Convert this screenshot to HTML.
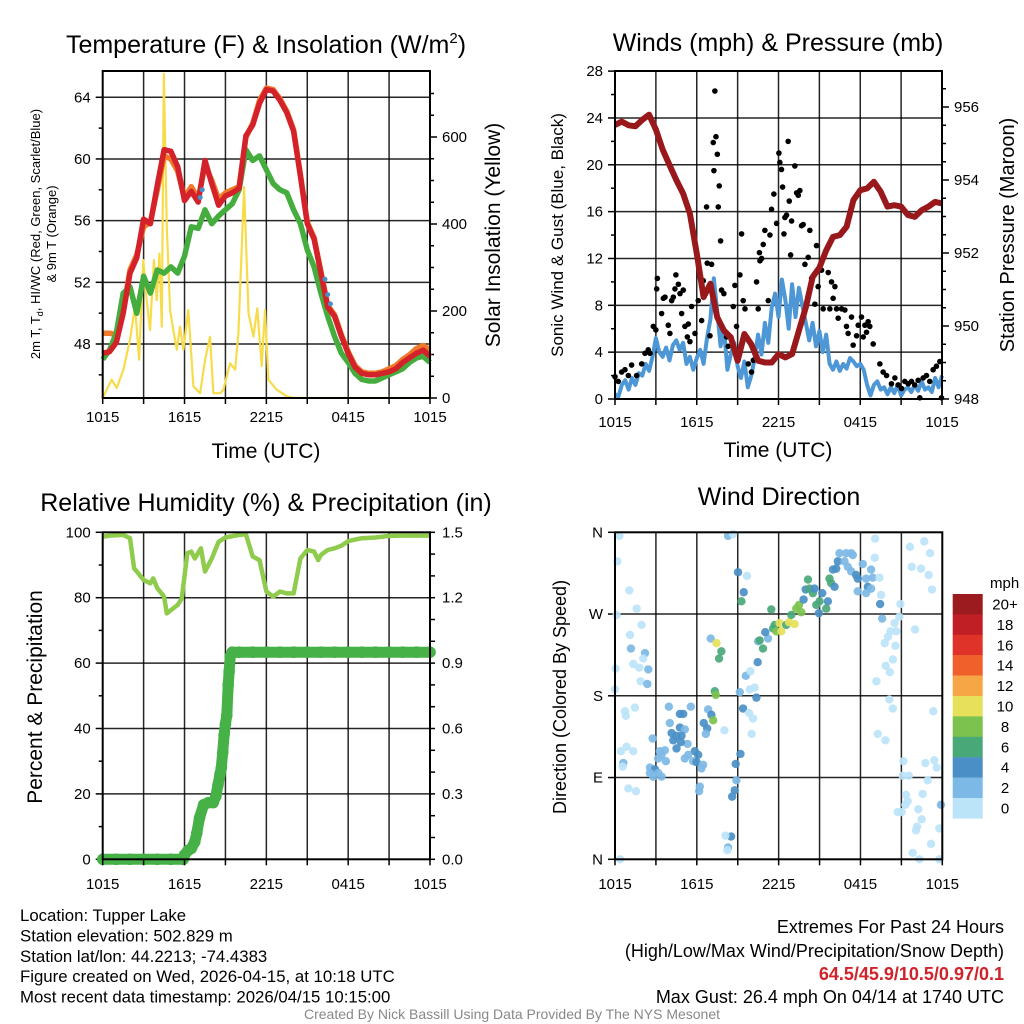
<!DOCTYPE html>
<html><head><meta charset="utf-8"><style>
html,body{margin:0;padding:0;background:#fff}
svg{display:block;font-family:"Liberation Sans",sans-serif}
</style></head><body>
<svg id="c" width="1024" height="1024" viewBox="0 0 1024 1024"></svg>
<script>
// ---------- DATA ----------
const hoursHalf = [];
for (let i = 0; i <= 48; i++) hoursHalf.push(i * 0.5);
const tempRed = [47.4,47.5,48.1,50.0,52.6,53.6,56.1,55.8,58.3,60.6,60.5,59.5,57.3,57.9,57.2,59.9,58.4,57.0,57.6,57.8,58.1,61.5,62.2,63.6,64.5,64.4,63.8,63.0,61.8,58.9,55.8,54.8,52.6,50.4,49.8,48.5,47.4,46.5,46.1,46.0,46.0,46.1,46.2,46.4,46.8,47.1,47.4,47.6,47.2];
const tempOrange = [48.7,48.7,48.6,50.2,52.8,53.8,55.6,55.9,58.0,60.2,60.0,59.2,57.5,58.2,57.4,59.6,58.6,57.4,57.8,58.0,58.2,61.4,62.3,63.8,64.6,64.5,63.9,63.1,61.9,59.0,55.9,54.9,52.7,50.5,49.9,48.6,47.5,46.6,46.2,46.1,46.1,46.2,46.4,46.6,47.0,47.3,47.7,47.9,47.6];
const dewGreen = [47.0,47.6,48.7,51.3,51.7,50.0,52.4,51.3,52.8,52.6,53.0,52.6,53.7,55.6,55.5,56.7,55.8,56.3,56.7,57.1,58.0,60.6,59.9,60.2,59.3,58.4,58.0,57.8,56.7,55.8,54.1,53.0,51.3,49.8,48.5,47.4,46.8,46.1,45.7,45.6,45.6,45.8,46.0,46.2,46.4,46.8,47.1,47.2,46.8];
const heatIdxTimes = [7.15,7.3,16.3,16.5,16.7];
const heatIdxVals = [57.5,58.0,52.2,51.2,50.6];
const solarTimes = [0,0.66,1.03,1.52,2.0,2.37,2.67,2.98,3.23,3.47,3.76,3.96,4.16,4.33,4.48,4.7,4.94,5.18,5.43,5.67,5.92,6.28,6.65,7.14,7.51,7.87,8.12,8.61,8.85,9.34,9.71,9.95,10.37,10.69,11.05,11.34,11.66,11.9,12.15,12.76,13.5,14.0,24];
const solarVals = [0,42,23,65,134,210,88,317,225,156,317,225,332,164,745,393,202,156,111,164,111,202,27,11,88,141,11,11,19,80,65,149,485,195,141,206,73,202,42,19,4,0,0];

const hoursQ = [];
for (let i = 0; i <= 96; i++) hoursQ.push(i * 0.25);
const sonicWind = [0.4,0.2,1.2,1.6,0.8,1.8,1.2,2.2,2.0,3.0,2.4,3.6,5.2,4.0,3.6,4.4,3.3,4.6,5.0,4.2,4.8,3.0,3.6,2.5,3.5,4.2,3.0,5.2,6.8,10.3,7.5,4.5,6.0,2.5,3.8,4.8,2.8,1.8,3.2,1.0,2.0,3.5,5.5,3.8,6.5,4.8,7.8,9.0,7.0,10.2,8.5,6.0,9.8,7.0,9.5,8.0,6.5,5.0,6.5,4.5,5.8,4.0,5.5,3.0,2.5,3.2,2.4,3.0,2.6,3.5,3.2,2.8,3.0,2.5,1.2,0.3,1.2,1.5,0.8,1.0,0.4,1.0,0.5,1.2,0.3,0.8,1.0,0.6,1.2,0.7,1.5,0.8,1.0,0.6,1.8,1.0,2.0];
const pressure = [955.51,955.6,955.5,955.47,955.65,955.79,955.38,954.83,954.41,954.0,953.63,953.08,951.98,950.79,951.16,950.24,949.87,949.69,949.05,949.78,949.5,949.05,949.0,949.0,949.23,949.14,949.23,949.87,950.51,951.34,951.6,952.07,952.44,952.49,952.72,953.45,953.72,953.77,953.95,953.68,953.27,953.31,953.27,953.04,952.99,953.17,953.27,953.4,953.36];
const gustTimes = [0,0.24,0.49,0.73,1.22,0.98,1.59,1.96,2.2,2.44,2.57,2.81,3.0,3.11,3.06,3.42,3.55,3.67,3.91,4.03,4.16,4.28,4.4,4.47,4.65,4.77,5.01,4.89,5.13,5.31,5.38,5.5,5.62,5.87,5.99,6.11,6.36,6.48,6.72,6.77,6.97,7.09,7.21,7.33,7.41,7.51,7.26,7.65,7.58,7.75,7.82,7.99,8.19,8.31,8.68,8.8,8.92,9.17,9.29,9.41,9.54,9.78,10.02,10.15,10.39,10.51,10.64,10.76,10.6,10.88,11.0,11.25,11.37,11.49,11.66,11.86,12.03,12.1,12.22,12.3,12.4,12.47,12.59,12.71,12.79,12.89,12.96,13.2,13.33,13.45,13.57,13.69,13.81,13.94,14.18,14.3,14.43,14.67,14.79,14.91,15.16,15.28,15.65,15.77,15.89,16.01,16.14,16.26,16.38,16.63,16.87,16.99,17.11,17.36,17.48,17.73,17.85,18.09,18.34,18.58,18.7,18.22,18.46,18.95,19.44,19.68,19.93,20.29,20.54,20.78,21.03,21.27,21.52,21.76,22.0,22.25,22.37,22.62,22.86,23.1,23.35,23.59,23.84,23.96];
const gustVals = [1.9,1.5,2.3,2.5,2.9,2.0,2.0,3.0,3.9,4.2,3.9,6.2,5.9,10.3,9.4,7.3,8.6,8.7,6.3,5.6,8.4,8.7,9.4,10.6,9.8,9.0,9.3,7.3,6.2,5.3,6.4,4.9,7.9,5.6,12.5,8.4,6.7,10.1,16.4,11.6,5.4,11.5,21.9,26.3,22.4,20.9,19.5,18.2,16.4,13.5,9.3,9.0,5.3,4.5,7.9,9.7,6.2,10.6,14.1,8.4,7.7,3.0,2.3,3.3,10.0,7.7,11.8,12.0,12.5,13.2,14.4,8.4,14.0,16.2,17.5,15.0,21.0,20.2,19.6,18.1,14.1,15.5,15.7,22.0,16.9,12.3,15.2,19.9,17.6,17.4,17.8,14.8,14.9,11.5,12.1,14.4,10.3,8.1,13.1,9.6,11.0,7.7,10.8,7.7,10.0,8.6,9.6,7.7,6.9,7.7,7.6,6.2,5.6,7.0,4.6,5.4,6.3,7.0,6.3,6.6,6.2,5.3,5.7,4.7,3.0,2.3,2.0,1.3,1.8,1.2,0.9,1.5,1.3,1.5,1.2,1.6,0.1,1.8,2.0,1.5,2.5,2.8,3.2,0.1];

const rhTimes = [0,0.5,1.5,2.0,2.3,2.5,3.0,3.5,3.7,4.0,4.5,4.7,5.0,5.5,5.8,6.2,6.5,6.75,7.2,7.5,8.0,8.5,9.0,10.0,10.5,11.0,11.5,12.0,12.5,13.0,13.5,14.0,14.5,15.0,15.5,15.8,16.0,16.5,17.0,17.5,18.0,19.0,20.0,21.0,22.0,24.0];
const rhVals = [98.7,99.0,99.2,98.2,89.0,88.0,85.4,84.4,85.9,82.9,80.3,75.2,76.2,77.8,79.8,93.6,94.1,92.0,95.1,88.0,92.0,97.1,98.4,99.2,99.4,92.6,91.5,81.9,80.3,81.9,81.3,81.3,92.0,94.6,94.1,91.5,93.1,94.6,95.1,95.9,97.3,98.2,98.4,98.9,99.0,99.0];
const precipTimes = [0,1,2,3,4,5,5.9,6.0,6.25,6.5,6.75,6.9,7.1,7.4,7.75,8.1,8.3,8.45,8.6,8.7,8.8,8.9,9.0,9.1,9.2,9.27,9.35,9.5,10,11,12,13,14,15,16,17,18,19,20,21,22,23,24];
const precipVals = [0,0,0,0,0,0,0,0.02,0.04,0.05,0.08,0.12,0.19,0.25,0.26,0.26,0.29,0.34,0.39,0.42,0.49,0.57,0.62,0.66,0.80,0.86,0.93,0.95,0.95,0.95,0.95,0.95,0.95,0.95,0.95,0.95,0.95,0.95,0.95,0.95,0.95,0.95,0.95];

const dirTimes = [0.32,0.17,0.12,1.05,1.59,1.95,1.10,1.17,2.20,1.34,1.78,2.44,2.07,0.05,0.0,1.88,2.37,0.73,0.80,1.46,0.85,0.44,1.34,0.61,0.56,0.98,1.54,0.37,2.76,3.95,4.76,5.0,5.56,4.02,4.76,5.12,4.15,4.51,4.88,4.27,5.32,4.83,4.51,3.29,3.66,3.41,3.17,3.73,2.56,2.93,3.17,2.56,3.41,2.80,5.85,6.10,5.37,5.12,5.73,5.98,6.46,6.34,6.22,6.17,6.83,7.07,7.20,6.51,6.76,6.66,8.02,7.32,7.39,7.02,7.44,7.80,7.63,9.02,9.68,9.44,9.27,9.15,9.39,9.83,10.12,10.02,9.2,8.85,8.9,8.78,8.59,8.51,8.10,8.29,8.24,8.29,8.66,9.59,9.93,9.88,10.24,10.37,10.46,10.49,10.61,10.85,11.22,11.02,11.46,11.59,11.71,11.83,12.07,12.2,12.56,12.76,13.17,12.93,13.29,13.49,13.66,13.83,13.98,14.15,14.27,14.51,14.63,14.76,15.0,14.95,15.2,15.49,15.61,15.73,15.85,16.1,15.98,16.34,16.22,16.46,16.95,17.32,17.44,16.83,17.07,17.32,17.68,17.8,18.17,18.41,18.78,18.9,19.39,18.54,18.41,18.78,17.8,19.51,19.44,19.59,19.07,19.05,19.17,19.85,20.15,19.78,20.02,20.2,20.5,20.63,20.56,20.37,20.85,20.93,20.12,20.37,19.27,19.83,21.63,21.76,22.44,22.68,23.1,23.0,23.24,22.0,23.34,21.15,21.1,21.54,22.76,23.41,23.59,22.93,21.34,22.56,21.46,21.29,23.9,22.24,20.73,21.02,22.49,22.15,22.07,23.78,23.17,21.83,22.32,23.78];
const dirVals = [356,328,269,296,276,258,247,232,227,215,211,209,221,210,187,196,193,163,158,167,124,119,119,106,102,78,75,0,133,168,160,160,168,150,145,143,139,136,136,131,127,129,122,119,120,115,111,108,101,99,95,95,91,91,119,115,115,111,108,107,104,100,80,75,165,159,153,150,144,138,142,185,181,243,238,229,221,316,312,294,284,184,166,161,155,138,116,105,87,76,69,25,26,13,10,356,358,202,207,187,189,178,217,240,241,232,243,250,275,254,258,251,260,251,258,261,259,269,276,280,272,286,297,308,298,293,298,280,284,271,293,276,284,309,304,300,319,328,320,337,337,337,335,328,322,317,313,309,325,309,319,310,310,300,293,298,295,291,281,265,353,332,196,213,206,238,245,251,260,251,235,220,267,281,176,166,138,131,344,322,320,350,337,313,297,253,163,108,92,92,106,109,101,87,71,72,64,60,60,55,52,52,44,36,32,34,17,7,0,0];
const dirSpeed = [1,1,1,1,1,1,1,3,3,1,1,3,1,1,1,1,3,1,1,1,1,1,1,3,1,1,1,1,3,3,5,5,3,3,5,3,5,5,5,5,3,5,5,3,3,3,3,3,3,5,3,3,3,3,5,5,3,3,3,5,3,3,3,3,3,5,9,5,5,3,1,7,9,3,11,7,7,5,1,5,7,3,5,1,1,1,5,5,3,5,5,5,1,3,1,3,1,3,1,1,1,5,5,3,7,7,3,5,7,7,7,9,11,11,7,11,11,7,9,9,9,5,5,7,7,7,5,7,7,5,5,7,5,7,7,5,5,5,5,3,3,3,3,3,3,3,5,5,3,3,3,3,1,5,3,3,3,1,5,3,1,1,1,1,1,1,1,1,1,1,1,1,1,1,1,1,1,1,1,1,1,1,1,1,1,1,1,1,1,1,1,1,1,1,1,1,1,1,3,1,1,1,1,1,1,1,1,1,1,1];

const xTickLabels = ["1015","1615","2215","0415","1015"];
const tempTicks = [48,52,56,60,64];
const solarTicks = [0,200,400,600];
const windTicks = [0,4,8,12,16,20,24,28];
const presTicks = [948,950,952,954,956];
const rhTicks = [0,20,40,60,80,100];
const precipTicks = ["0.0","0.3","0.6","0.9","1.2","1.5"];
const dirTickLabels = ["N","E","S","W","N"];
const cbLabels = ["20+","18","16","14","12","10","8","6","4","2","0"];
const cbColors = ["#9b1b1e","#c01f26","#df3228","#f0602b","#f7a646","#e6e05a","#7cc24e","#49a878","#4a8fc6","#7db9e6","#bce4f8"];

// ---------- DRAW ----------
const svg = document.getElementById('c');
const NS = "http://www.w3.org/2000/svg";
const TF = 15;
function mk(tag, attrs, parent, txt) {
  const e = document.createElementNS(NS, tag);
  for (const k in attrs) e.setAttribute(k, attrs[k]);
  if (txt !== undefined) e.textContent = txt;
  (parent || svg).appendChild(e);
  return e;
}
function grp(name) {
  const g = mk('g', {});
  
  
  return g;
}
function linePath(ts, vs, fx, fy) {
  let d = '';
  for (let i = 0; i < ts.length; i++) d += (i ? 'L' : 'M') + fx(ts[i]).toFixed(1) + ',' + fy(vs[i]).toFixed(1);
  return d;
}
function frame(g, x0, x1, y0, y1, nv, hlines) {
  for (let i = 1; i < nv; i++) {
    const x = x0 + (x1 - x0) * i / nv;
    mk('line', {x1: x, x2: x, y1: y0, y2: y1, stroke: '#000', 'stroke-width': 1.5, 'stroke-opacity': 0.85}, g);
  }
  hlines.forEach(y => mk('line', {x1: x0, x2: x1, y1: y, y2: y, stroke: '#000', 'stroke-width': 1.5, 'stroke-opacity': 0.85}, g));
}
function border(g, x0, x1, y0, y1) {
  mk('rect', {x: x0, y: y0, width: x1 - x0, height: y1 - y0, fill: 'none', stroke: '#000', 'stroke-width': 2}, g);
}
function xTicks(g, x0, x1, y1, labelY) {
  for (let i = 0; i <= 8; i++) {
    const x = x0 + (x1 - x0) * i / 8;
    mk('line', {x1: x, x2: x, y1: y1, y2: y1 + 6, stroke: '#000', 'stroke-width': 1.5}, g);
  }
  xTickLabels.forEach((l, i) => {
    const t = mk('text', {x: x0 + (x1 - x0) * i / 4, y: labelY, 'font-size': TF, 'text-anchor': 'middle'}, g, l);
    
    
  });
}
function title(txt, x, y, size, name) {
  const t = mk('text', {x: x, y: y, 'font-size': size, 'text-anchor': 'middle'}, svg, txt);
  
  
  return t;
}
function vlabel(txt, x, y, size, name) {
  const t = mk('text', {x: 0, y: 0, 'font-size': size, 'text-anchor': 'middle', transform: `translate(${x},${y}) rotate(-90)`}, svg, txt);
  
  
  return t;
}

// ===== Panel 1 =====
{
  const x0 = 102.7, x1 = 430, y0 = 71, y1 = 398;
  const X = t => x0 + (x1 - x0) * t / 24;
  const TY = v => 344 - (v - 48) * 15.42;
  const SY = v => 398 - v * 0.435;
  const g = grp('temperature-panel');
  frame(g, x0, x1, y0, y1, 8, tempTicks.map(TY));
  for (let v = 46; v <= 64; v += 2) mk('line', {x1: x0 - (v % 4 === 0 ? 7 : 4), x2: x0, y1: TY(v), y2: TY(v), stroke: '#000', 'stroke-width': 1.5}, g);
  tempTicks.forEach(v => {
    const t = mk('text', {x: x0 - 12, y: TY(v) + 5, 'font-size': TF, 'text-anchor': 'end'}, g, v);
    
    
  });
  for (let v = 0; v <= 700; v += 50) mk('line', {x1: x1, x2: x1 + (v % 200 === 0 ? 7 : 4), y1: SY(v), y2: SY(v), stroke: '#000', 'stroke-width': 1.5}, g);
  solarTicks.forEach(v => {
    const t = mk('text', {x: x1 + 12, y: SY(v) + 5, 'font-size': TF}, g, v);
    
    
  });
  const clipId = 'cp1';
  const cp = mk('clipPath', {id: clipId}, g); mk('rect', {x: x0, y: y0, width: x1 - x0, height: y1 - y0}, cp);
  const s = mk('path', {d: linePath(solarTimes, solarVals, X, SY), fill: 'none', stroke: '#f7dc4a', 'stroke-width': 2.2, 'clip-path': `url(#${clipId})`, 'stroke-linejoin': 'round'}, g);
   
  const o = mk('path', {d: linePath(hoursHalf, tempOrange, X, TY), fill: 'none', stroke: '#f07a2a', 'stroke-width': 5.5, 'stroke-linejoin': 'round'}, g);
   
  const gr = mk('path', {d: linePath(hoursHalf, dewGreen, X, TY), fill: 'none', stroke: '#44ad3e', 'stroke-width': 5.5, 'stroke-linejoin': 'round'}, g);
   
  const r = mk('path', {d: linePath(hoursHalf, tempRed, X, TY), fill: 'none', stroke: '#d4222a', 'stroke-width': 5.5, 'stroke-linejoin': 'round'}, g);
   
  heatIdxTimes.forEach((t, i) => {
    const c = mk('circle', {cx: X(t), cy: TY(heatIdxVals[i]), r: 2.5, fill: '#4a8fc6'}, g);
     
  });
  border(g, x0, x1, y0, y1);
  xTicks(g, x0, x1, y1, 422);
  const tt = title('', 266, 53, 25, 'temperature-title');
  tt.innerHTML = 'Temperature (F) &amp; Insolation (W/m<tspan font-size="15" dy="-10">2</tspan><tspan dy="10">)</tspan>';
  title('Time (UTC)', 266, 458, 21, 'x-axis-title');
  const l1 = vlabel('', 40, 234, 13, 'temp-axis-title');
  l1.innerHTML = '2m T, T<tspan font-size="9" dy="3">d</tspan><tspan dy="-3">, HI/WC (Red, Green, Scarlet/Blue)</tspan>';
  vlabel('&amp; 9m T (Orange)'.replace('&amp;', '&'), 56, 234, 13, 'temp-axis-title-2');
  vlabel('Solar Insolation (Yellow)', 500, 235, 21, 'solar-axis-title');
}

// ===== Panel 2 =====
{
  const x0 = 615, x1 = 942, y0 = 71, y1 = 399;
  const X = t => x0 + (x1 - x0) * t / 24;
  const WY = v => 399 - v * 11.71;
  const PY = p => 399 - (p - 948) * 36.5;
  const g = grp('winds-panel');
  frame(g, x0, x1, y0, y1, 8, windTicks.slice(1, 7).map(WY));
  for (let v = 0; v <= 28; v += 2) mk('line', {x1: x0 - (v % 4 === 0 ? 7 : 4), x2: x0, y1: WY(v), y2: WY(v), stroke: '#000', 'stroke-width': 1.5}, g);
  windTicks.forEach(v => {
    const t = mk('text', {x: x0 - 12, y: WY(v) + 5, 'font-size': TF, 'text-anchor': 'end'}, g, v);
     
  });
  for (let p = 948; p <= 956.8; p += 0.5) mk('line', {x1: x1, x2: x1 + (Math.abs(p - Math.round(p / 2) * 2) < 0.01 ? 7 : 4), y1: PY(p), y2: PY(p), stroke: '#000', 'stroke-width': 1.5}, g);
  presTicks.forEach(v => {
    const t = mk('text', {x: x1 + 12, y: PY(v) + 5, 'font-size': TF}, g, v);
     
  });
  const w = mk('path', {d: linePath(hoursQ, sonicWind, X, WY), fill: 'none', stroke: '#4d97d6', 'stroke-width': 4, 'stroke-linejoin': 'round'}, g);
   
  gustTimes.forEach((t, i) => {
    const c = mk('circle', {cx: X(t), cy: WY(gustVals[i]), r: 2.8, fill: '#000'}, g);
     
  });
  const p = mk('path', {d: linePath(hoursHalf, pressure, X, PY), fill: 'none', stroke: '#99181b', 'stroke-width': 6, 'stroke-linejoin': 'round'}, g);
   
  border(g, x0, x1, y0, y1);
  xTicks(g, x0, x1, y1, 427);
  title('Winds (mph) & Pressure (mb)', 778, 51, 25, 'winds-title');
  title('Time (UTC)', 778, 457, 21, 'x-axis-title-2');
  vlabel('Sonic Wind & Gust (Blue, Black)', 563, 235, 17, 'wind-axis-title');
  vlabel('Station Pressure (Maroon)', 1014, 235, 20, 'pressure-axis-title');
}

// ===== Panel 3 =====
{
  const x0 = 102.7, x1 = 430, y0 = 532.3, y1 = 859.3;
  const X = t => x0 + (x1 - x0) * t / 24;
  const RY = v => y1 - v * 3.27;
  const PY = v => y1 - v / 1.5 * 327;
  const g = grp('humidity-panel');
  frame(g, x0, x1, y0, y1, 8, [20, 40, 60, 80].map(RY));
  for (let v = 0; v <= 100; v += 10) mk('line', {x1: x0 - (v % 20 === 0 ? 7 : 4), x2: x0, y1: RY(v), y2: RY(v), stroke: '#000', 'stroke-width': 1.5}, g);
  rhTicks.forEach(v => {
    const t = mk('text', {x: x0 - 12, y: RY(v) + 5, 'font-size': TF, 'text-anchor': 'end'}, g, v);
     
  });
  for (let v = 0; v <= 1.5001; v += 0.1) mk('line', {x1: x1, x2: x1 + 5, y1: PY(v), y2: PY(v), stroke: '#000', 'stroke-width': 1.5}, g);
  precipTicks.forEach(v => {
    const t = mk('text', {x: x1 + 12, y: PY(+v) + 5, 'font-size': TF}, g, v);
     
  });
  const rh = mk('path', {d: linePath(rhTimes, rhVals, X, RY), fill: 'none', stroke: '#8fcb4c', 'stroke-width': 4.5, 'stroke-linejoin': 'round'}, g);
   
  const pl = mk('path', {d: linePath(precipTimes, precipVals, X, PY), fill: 'none', stroke: '#46b146', 'stroke-width': 11, 'stroke-linecap': 'round', 'stroke-linejoin': 'round'}, g);
   
  precipTimes.forEach((t, i) => {
    const c = mk('circle', {cx: X(t), cy: PY(precipVals[i]), r: 5.8, fill: '#46b146'}, g);
     
  });
  border(g, x0, x1, y0, y1);
  xTicks(g, x0, x1, y1, 889);
  title('Relative Humidity (%) & Precipitation (in)', 266, 511, 25, 'humidity-title');
  vlabel('Percent & Precipitation', 42, 697, 21, 'rh-axis-title');
}

// ===== Panel 4 =====
{
  const x0 = 615, x1 = 942.3, y0 = 532.3, y1 = 859.3;
  const X = t => x0 + (x1 - x0) * t / 24;
  const DY = d => y1 - d / 360 * 327;
  const g = grp('wind-direction-panel');
  frame(g, x0, x1, y0, y1, 8, [90, 180, 270].map(DY));
  for (let d = 0; d <= 360; d += 90) mk('line', {x1: x0 - 7, x2: x0, y1: DY(d), y2: DY(d), stroke: '#000', 'stroke-width': 1.5}, g);
  dirTickLabels.forEach((l, i) => {
    const t = mk('text', {x: x0 - 12, y: DY(i * 90) + 5, 'font-size': TF, 'text-anchor': 'end'}, g, l);
     
  });
  const colorFor = s => cbColors[10 - Math.min(10, Math.floor(s / 2))];
  dirTimes.forEach((t, i) => {
    const c = mk('circle', {cx: X(t), cy: DY(dirVals[i]), r: 4.2, fill: colorFor(dirSpeed[i]), 'fill-opacity': 0.92}, g);
     
  });
  border(g, x0, x1, y0, y1);
  xTicks(g, x0, x1, y1, 889);
  title('Wind Direction', 779, 505, 25, 'direction-title');
  vlabel('Direction (Colored By Speed)', 566, 697, 18, 'direction-axis-title');
  const cb = grp('speed-colorbar');
  const t = mk('text', {x: 990, y: 588, 'font-size': 15}, cb, 'mph');
   
  cbColors.forEach((c, i) => {
    const r = mk('rect', {x: 952.7, y: 594 + i * 20.4, width: 30, height: 20.6, fill: c}, cb);
     
    const l = mk('text', {x: 1005, y: 594 + i * 20.4 + 15.5, 'font-size': 15, 'text-anchor': 'middle'}, cb, cbLabels[i]);
     
  });
}

// ===== Footer =====
{
  const g = grp('station-info');
  ["Location: Tupper Lake","Station elevation: 502.829 m","Station lat/lon: 44.2213; -74.4383","Figure created on Wed, 2026-04-15, at 10:18 UTC","Most recent data timestamp: 2026/04/15 10:15:00"].forEach((s, i) => {
    const t = mk('text', {x: 20, y: 921 + i * 20.4, 'font-size': 16.8}, g, s);
     
  });
  const e = grp('extremes-info');
  const lines = [["Extremes For Past 24 Hours", 933, '#000', 'normal'], ["(High/Low/Max Wind/Precipitation/Snow Depth)", 957, '#000', 'normal'], ["64.5/45.9/10.5/0.97/0.1", 980, '#d0232a', 'bold'], ["Max Gust: 26.4 mph On 04/14 at 1740 UTC", 1003, '#000', 'normal']];
  lines.forEach(l => {
    const t = mk('text', {x: 1004, y: l[1], 'font-size': 18, 'text-anchor': 'end', fill: l[2], 'font-weight': l[3]}, e, l[0]);
     
  });
  const c = mk('text', {x: 512, y: 1019, 'font-size': 14, 'text-anchor': 'middle', fill: '#888'}, svg, 'Created By Nick Bassill Using Data Provided By The NYS Mesonet');
   
}
</script>
</body></html>
